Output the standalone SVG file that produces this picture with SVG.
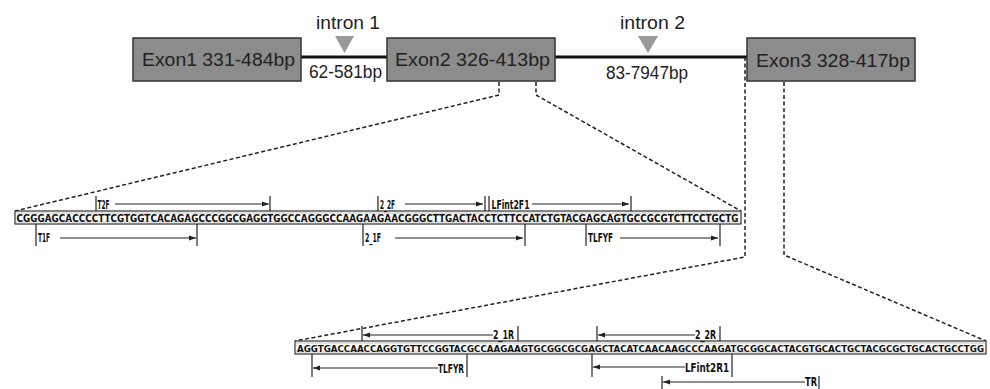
<svg xmlns="http://www.w3.org/2000/svg" width="990" height="389" viewBox="0 0 990 389">
<style>
.exon{fill:#8c8c8c;stroke:#333;stroke-width:1.5}
.big{font-family:"Liberation Sans",Arial,sans-serif;font-size:18px;fill:#222}
.intron{stroke:#111;stroke-width:3}
.tri{fill:#999}
.dash{fill:none;stroke:#222;stroke-width:1.5;stroke-dasharray:4 2.5}
.seqbox{fill:#fff;stroke:#333;stroke-width:1.2}
.inner{stroke:#999;stroke-width:0.6}
.seq{font-family:"Liberation Sans Narrow","DejaVu Sans Condensed","Liberation Sans",sans-serif;font-weight:bold;font-size:10.5px;fill:#111}
.lab{font-family:"Liberation Sans Narrow","DejaVu Sans Condensed","Liberation Sans",sans-serif;font-weight:bold;font-size:12px;fill:#111}
.tick{stroke:#222;stroke-width:1.2}
.fw{stroke:#222;stroke-width:1.2;marker-end:url(#ah)}
.rv{stroke:#222;stroke-width:1.2;marker-start:url(#ahl)}
</style>
<defs>
<marker id="ah" markerUnits="userSpaceOnUse" markerWidth="8" markerHeight="6" refX="7" refY="3" orient="auto"><path d="M0,0.5 L7,3 L0,5.5 Z" fill="#222"/></marker>
<marker id="ahl" markerUnits="userSpaceOnUse" markerWidth="8" markerHeight="6" refX="0" refY="3" orient="auto"><path d="M7,0.5 L0,3 L7,5.5 Z" fill="#222"/></marker>
</defs>

<g id="connectors">
<line class="intron" x1="301" y1="57" x2="387" y2="57"/>
<line class="intron" x1="555" y1="57" x2="747" y2="57"/>
<path class="dash" d="M499,82 V95 L15,211"/>
<path class="dash" d="M536,82 V95 L741,211"/>
<path class="dash" d="M745,57 V257 L295,341"/>
<path class="dash" d="M784,82 V255 L986,341"/>
</g>

<g id="exon1"><rect class="exon" x="133" y="38" width="168" height="43"/><text class="big" x="142" y="66" textLength="153" lengthAdjust="spacingAndGlyphs">Exon1 331-484bp</text></g>
<g id="exon2"><rect class="exon" x="387" y="38" width="168" height="43"/><text class="big" x="395" y="66" textLength="155" lengthAdjust="spacingAndGlyphs">Exon2 326-413bp</text></g>
<g id="exon3"><rect class="exon" x="747" y="38" width="168" height="43"/><text class="big" x="756" y="67" textLength="154" lengthAdjust="spacingAndGlyphs">Exon3 328-417bp</text></g>

<g id="intron1">
<polygon class="tri" points="335,36 354,36 344.5,53"/>
<text class="big" x="316" y="29" textLength="64" lengthAdjust="spacingAndGlyphs">intron 1</text>
<text class="big" x="309" y="78" textLength="73" lengthAdjust="spacingAndGlyphs">62-581bp</text>
</g>
<g id="intron2">
<polygon class="tri" points="638,36 658,36 648,53"/>
<text class="big" x="620" y="29" textLength="65" lengthAdjust="spacingAndGlyphs">intron 2</text>
<text class="big" x="606" y="79" textLength="82" lengthAdjust="spacingAndGlyphs">83-7947bp</text>
</g>

<g id="exon2-seq">
<rect class="seqbox" x="15" y="211" width="726" height="13"/>
<line class="inner" x1="15" y1="213" x2="741" y2="213"/>
<line class="inner" x1="15" y1="222" x2="741" y2="222"/>
<text class="seq" x="16.5" y="221.5" textLength="722" lengthAdjust="spacingAndGlyphs">CGGGAGCACCCCTTCGTGGTCACAGAGCCCGGCGAGGTGGCCAGGGCCAAGAAGAACGGGCTTGACTACCTCTTCCATCTGTACGAGCAGTGCCGCGTCTTCCTGCTG</text>
</g>

<g id="T2F"><line class="tick" x1="96" y1="196" x2="96" y2="211"/><text class="lab" x="97.5" y="209" textLength="12" lengthAdjust="spacingAndGlyphs">T2F</text><line class="fw" x1="115" y1="204" x2="269" y2="204"/><line class="tick" x1="270" y1="196" x2="270" y2="211"/></g>
<g id="p2_2F"><line class="tick" x1="378" y1="196" x2="378" y2="211"/><text class="lab" x="380" y="209" textLength="15" lengthAdjust="spacingAndGlyphs">2_2F</text><line class="fw" x1="405" y1="204" x2="483" y2="204"/><line class="tick" x1="485" y1="196" x2="485" y2="211"/></g>
<g id="LFint2F1"><line class="tick" x1="489" y1="196" x2="489" y2="211"/><text class="lab" x="491.5" y="209" textLength="38" lengthAdjust="spacingAndGlyphs">LFint2F1</text><line class="fw" x1="532" y1="204" x2="629" y2="204"/><line class="tick" x1="631" y1="196" x2="631" y2="211"/></g>

<g id="T1F"><line class="tick" x1="36" y1="224" x2="36" y2="246"/><text class="lab" x="38" y="242" textLength="12" lengthAdjust="spacingAndGlyphs">T1F</text><line class="fw" x1="60" y1="238" x2="196" y2="238"/><line class="tick" x1="197" y1="224" x2="197" y2="246"/></g>
<g id="p2_1F"><line class="tick" x1="363" y1="224" x2="363" y2="246"/><text class="lab" x="365" y="242" textLength="16" lengthAdjust="spacingAndGlyphs">2_1F</text><line class="fw" x1="395" y1="238" x2="523" y2="238"/><line class="tick" x1="525" y1="224" x2="525" y2="246"/></g>
<g id="TLFYF"><line class="tick" x1="586" y1="224" x2="586" y2="246"/><text class="lab" x="588" y="242" textLength="25" lengthAdjust="spacingAndGlyphs">TLFYF</text><line class="fw" x1="620" y1="238" x2="718" y2="238"/><line class="tick" x1="720" y1="224" x2="720" y2="246"/></g>

<g id="exon3-seq">
<rect class="seqbox" x="295" y="341" width="691" height="13"/>
<line class="inner" x1="295" y1="343" x2="986" y2="343"/>
<line class="inner" x1="295" y1="352" x2="986" y2="352"/>
<text class="seq" x="297" y="351.5" textLength="687" lengthAdjust="spacingAndGlyphs" style="font-size:9.5px">AGGTGACCAACCAGGTGTTCCGGTACGCCAAGAAGTGCGGCGCGAGCTACATCAACAAGCCCAAGATGCGGCACTACGTGCACTGCTACGCGCTGCACTGCCTGG</text>
</g>

<g id="p2_1R"><line class="tick" x1="362" y1="326" x2="362" y2="341"/><line class="rv" x1="363" y1="335" x2="493" y2="335"/><text class="lab" x="493" y="338.5" textLength="21" lengthAdjust="spacingAndGlyphs">2_1R</text><line class="tick" x1="518" y1="326" x2="518" y2="341"/></g>
<g id="p2_2R"><line class="tick" x1="597" y1="326" x2="597" y2="341"/><line class="rv" x1="598" y1="335" x2="695" y2="335"/><text class="lab" x="695" y="338.5" textLength="21" lengthAdjust="spacingAndGlyphs">2_2R</text><line class="tick" x1="720" y1="326" x2="720" y2="341"/></g>

<g id="TLFYR"><line class="tick" x1="312" y1="354" x2="312" y2="377"/><line class="rv" x1="313" y1="368" x2="438" y2="368"/><text class="lab" x="438" y="373" textLength="26" lengthAdjust="spacingAndGlyphs">TLFYR</text><line class="tick" x1="467" y1="354" x2="467" y2="377"/></g>
<g id="LFint2R1"><line class="tick" x1="592" y1="354" x2="592" y2="377"/><line class="rv" x1="593" y1="367" x2="685" y2="367"/><text class="lab" x="685" y="372" textLength="44" lengthAdjust="spacingAndGlyphs">LFint2R1</text><line class="tick" x1="732" y1="354" x2="732" y2="377"/></g>
<g id="TR"><line class="tick" x1="662" y1="376" x2="662" y2="389"/><line class="rv" x1="663" y1="382" x2="805" y2="382"/><text class="lab" x="805" y="386" textLength="12" lengthAdjust="spacingAndGlyphs">TR</text><line class="tick" x1="819" y1="376" x2="819" y2="389"/></g>
</svg>
